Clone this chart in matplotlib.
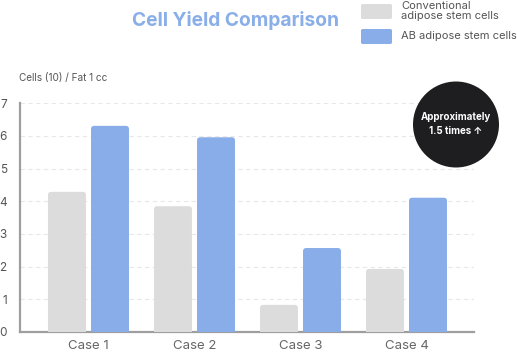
import matplotlib
matplotlib.use("Agg")
import matplotlib.pyplot as plt
from matplotlib.patches import FancyBboxPatch, Rectangle, Ellipse
import numpy as np

# data
cases = ["Case 1", "Case 2", "Case 3", "Case 4"]
conventional = [4.29, 3.85, 0.83, 1.93]
ab_cells = [6.31, 5.96, 2.57, 4.11]
yticks = [0, 1, 2, 3, 4, 5, 6, 7]

grey = "#dcdcdc"
blue = "#88ade9"
txt = "#555555"

plt.rcParams["font.family"] = ["Inter", "DejaVu Sans"]

fig = plt.figure(figsize=(5.17, 3.55), dpi=100)
ax = fig.add_axes([20 / 517, 23 / 355, 454 / 517, (332 - 103.3) / 355])

x = np.arange(len(cases))
w = 0.358
off = 0.203


def rounded_bars(xs, vals, color):
    bars = ax.bar(xs, vals, width=w, color=color, zorder=3)
    for b in bars:
        b.set_visible(False)
        x0, h = b.get_x(), b.get_height()
        # rounded top, square bottom
        ax.add_patch(FancyBboxPatch((x0, 0), w, h,
                                    boxstyle="round,pad=0,rounding_size=0.03",
                                    mutation_aspect=3.3, fc=color, ec="none", zorder=3))
        ax.add_patch(Rectangle((x0, 0), w, h / 2, fc=color, ec="none", zorder=3))
    return bars


rounded_bars(x - off, conventional, grey)
rounded_bars(x + off, ab_cells, blue)

ax.set_xlim(-0.646, 3.637)
ax.set_ylim(0, 7)
ax.set_yticks(yticks)
ax.set_xticks(x)
ax.set_xticklabels(cases, fontsize=9.5, color="#666666")
ax.tick_params(axis="x", length=0, pad=6)
ax.tick_params(axis="y", length=0, pad=9.5, labelsize=8.5, labelcolor=txt)

ax.grid(axis="y", color="#e8e8e8", linestyle=(0, (4, 3)), linewidth=0.8, zorder=0)
for s in ["top", "right"]:
    ax.spines[s].set_visible(False)
for s in ["left", "bottom"]:
    ax.spines[s].set_color("#9e9e9e")
    ax.spines[s].set_linewidth(1.6)

fig.text(19 / 517, 1 - 78 / 355, "Cells (10) / Fat 1 cc", fontsize=7.2, color=txt, va="center")
fig.text(236 / 517, 1 - 21 / 355, "Cell Yield Comparison", fontsize=13.8, fontweight="bold",
         color="#8aaee8", ha="center", va="center")

# legend
fig.patches.append(FancyBboxPatch((361 / 517, 1 - 19 / 355), 31 / 517, 15 / 355,
                                  boxstyle="round,pad=0,rounding_size=0.004",
                                  transform=fig.transFigure, fc=grey, ec="none"))
fig.patches.append(FancyBboxPatch((361 / 517, 1 - 44 / 355), 31 / 517, 15 / 355,
                                  boxstyle="round,pad=0,rounding_size=0.004",
                                  transform=fig.transFigure, fc=blue, ec="none"))
fig.text(401 / 517, 1 - 11 / 355, "Conventional\nadipose stem cells", fontsize=8,
         color=txt, va="center", linespacing=0.95)
fig.text(401 / 517, 1 - 36 / 355, "AB adipose stem cells", fontsize=8, color=txt, va="center")

# badge
fig.patches.append(Ellipse((456 / 517, 1 - 124.5 / 355), 86 / 517, 86 / 355,
                           transform=fig.transFigure, fc="#1e1e20", ec="none", zorder=5))
fig.text(456 / 517, 1 - 124.5 / 355, "Approximately\n1.5 times ↑", fontsize=7, fontweight="bold",
         color="white", ha="center", va="center", linespacing=1.5, zorder=6)

fig.savefig("out.png", dpi=100)
